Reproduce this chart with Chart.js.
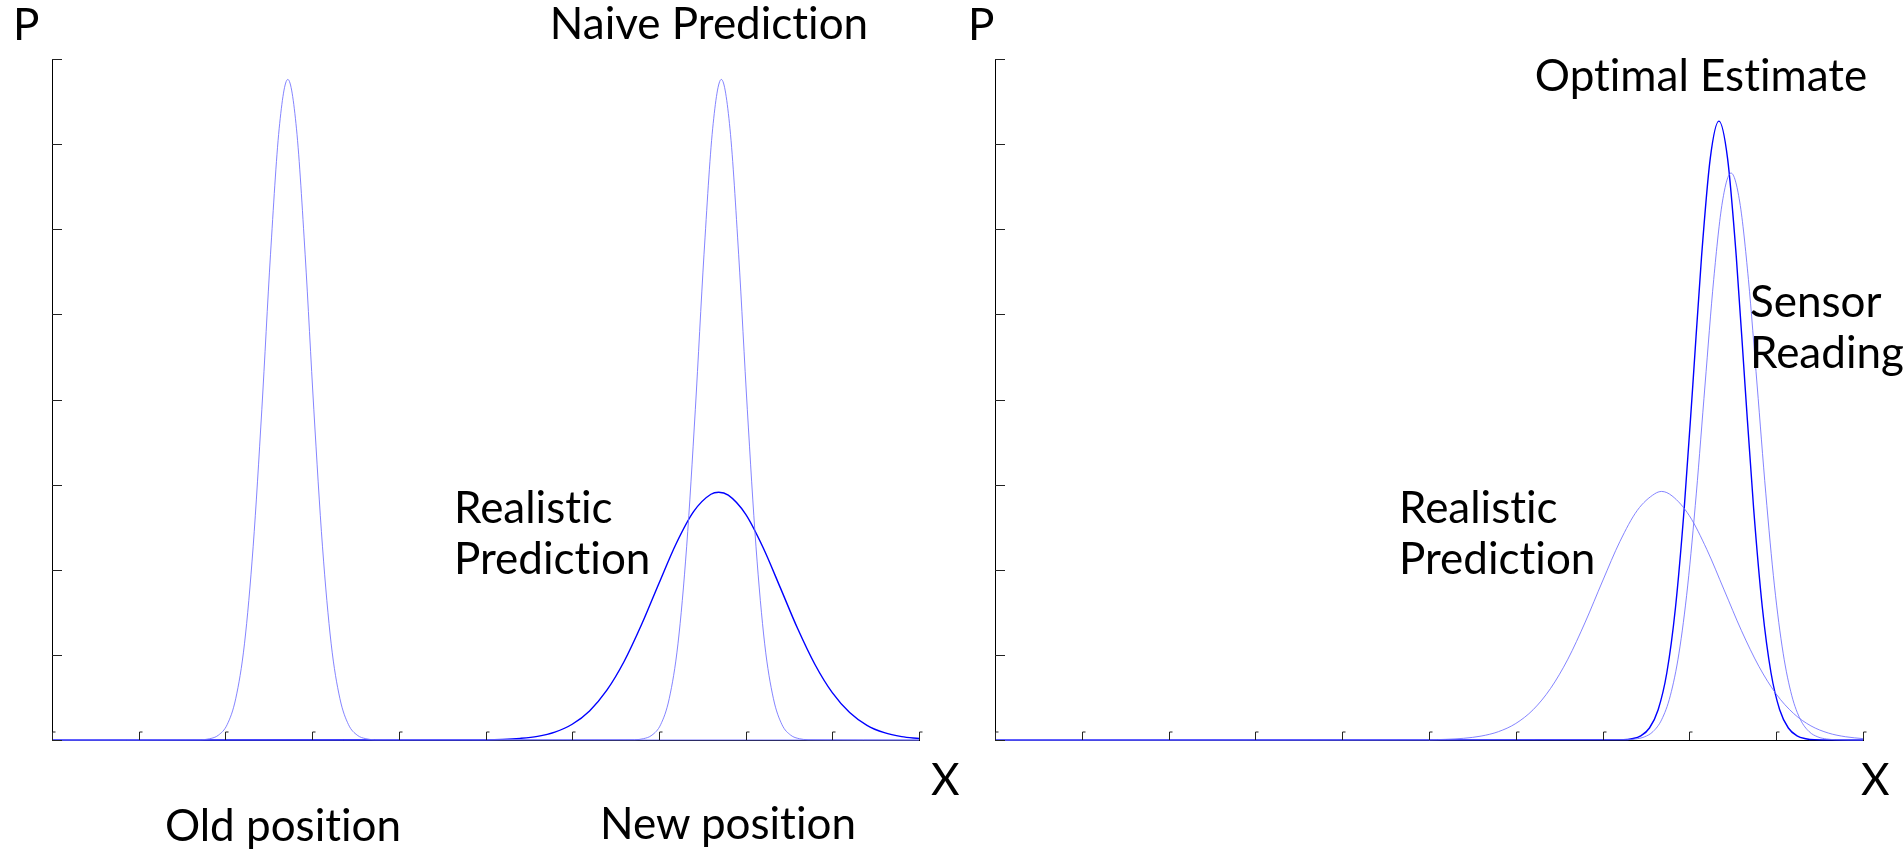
<!DOCTYPE html>
<html>
<head>
<meta charset="utf-8">
<script src="https://cdn.jsdelivr.net/npm/chart.js@4.4.1/dist/chart.umd.min.js"></script>
<style>
  html, body { margin: 0; padding: 0; background: #fff; }
  #stage { position: relative; width: 1903px; height: 852px; overflow: hidden; background: #fff; }
  .panel { position: absolute; top: 0; height: 852px; }
  .lbl { position: absolute; font-family: Lato, "Open Sans", sans-serif; font-size: 44px; line-height: 44px; color: #000; white-space: nowrap; z-index: 2; font-variant-ligatures: none; font-feature-settings: "liga" 0; }
</style>
</head>
<body>
<div id="stage">
  <div class="panel" style="left:0;width:960px"><canvas id="cLeft" width="960" height="852"></canvas></div>
  <div class="panel" style="left:960px;width:943px"><canvas id="cRight" width="943" height="852"></canvas></div>

  <div class="lbl" style="left:13px;top:1px">P</div>
  <div class="lbl" style="left:931px;top:756px">X</div>
  <div class="lbl" style="left:709px;top:0px;transform:translateX(-50%)">Naive Prediction</div>
  <div class="lbl" style="left:454px;top:484px">Realistic<br><span style="line-height:58px">Prediction</span></div>
  <div class="lbl" style="left:283px;top:802px;transform:translateX(-50%)">Old position</div>
  <div class="lbl" style="left:728px;top:800px;transform:translateX(-50%)">New position</div>

  <div class="lbl" style="left:968px;top:1px">P</div>
  <div class="lbl" style="left:1861px;top:756px">X</div>
  <div class="lbl" style="left:1701px;top:52px;transform:translateX(-50%)">Optimal Estimate</div>
  <div class="lbl" style="left:1399px;top:484px">Realistic<br><span style="line-height:58px">Prediction</span></div>
  <div class="lbl" style="left:1750px;top:278px">Sensor<br><span style="line-height:58px">Reading</span></div>
</div>
<script>
// left panel: old position, naive prediction, realistic prediction
const oldPosX = [0, 1.72, 1.82, 1.92, 2.02, 2.12, 2.22, 2.32, 2.42, 2.52, 2.62, 2.72, 2.82, 2.92, 3.02, 3.12, 3.22, 3.32, 3.42, 3.52, 3.62, 3.72, 10];
const oldPosP = [0, 0.004, 0.015, 0.057, 0.18, 0.49, 1.13, 2.27, 3.88, 5.70, 7.18, 7.76, 7.18, 5.70, 3.88, 2.27, 1.13, 0.49, 0.18, 0.057, 0.015, 0.004, 0];

const naiveX = [0, 6.72, 6.82, 6.92, 7.02, 7.12, 7.22, 7.32, 7.42, 7.52, 7.62, 7.72, 7.82, 7.92, 8.02, 8.12, 8.22, 8.32, 8.42, 8.52, 8.62, 8.72, 10];
const naiveP = [0, 0.004, 0.015, 0.057, 0.18, 0.49, 1.13, 2.27, 3.88, 5.70, 7.18, 7.76, 7.18, 5.70, 3.88, 2.27, 1.13, 0.49, 0.18, 0.057, 0.015, 0.004, 0];

const realX = [0, 5.0, 5.2, 5.4, 5.6, 5.8, 6.0, 6.2, 6.4, 6.6, 6.8, 7.0, 7.2, 7.4, 7.6, 7.69, 7.8, 8.0, 8.2, 8.4, 8.6, 8.8, 9.0, 9.2, 9.4, 9.6, 9.8, 10.0];
const realP = [0, 0.003, 0.007, 0.019, 0.043, 0.093, 0.185, 0.342, 0.585, 0.925, 1.356, 1.839, 2.309, 2.683, 2.887, 2.91, 2.876, 2.653, 2.264, 1.790, 1.309, 0.887, 0.556, 0.323, 0.173, 0.086, 0.040, 0.017];

// right panel: realistic prediction, sensor reading, optimal estimate
const real2X = [0, 5.0, 5.2, 5.4, 5.6, 5.8, 6.0, 6.2, 6.4, 6.6, 6.8, 7.0, 7.2, 7.4, 7.6, 7.68, 7.8, 8.0, 8.2, 8.4, 8.6, 8.8, 9.0, 9.2, 9.4, 9.6, 9.8, 10.0];
const real2P = [0, 0.003, 0.008, 0.020, 0.046, 0.098, 0.194, 0.356, 0.605, 0.950, 1.385, 1.868, 2.333, 2.698, 2.892, 2.92, 2.868, 2.634, 2.240, 1.763, 1.284, 0.866, 0.540, 0.312, 0.166, 0.082, 0.038, 0.016];

const sensorX = [0, 7.28, 7.38, 7.48, 7.58, 7.68, 7.78, 7.88, 7.98, 8.08, 8.18, 8.28, 8.38, 8.48, 8.58, 8.68, 8.78, 8.88, 8.98, 9.08, 9.18, 9.28, 9.38, 9.48, 9.58, 9.68, 10];
const sensorP = [0, 0.004, 0.012, 0.036, 0.098, 0.238, 0.52, 1.02, 1.81, 2.90, 4.17, 5.41, 6.32, 6.66, 6.32, 5.41, 4.17, 2.90, 1.81, 1.02, 0.52, 0.238, 0.098, 0.036, 0.012, 0.004, 0];

const optX = [0, 7.24, 7.34, 7.44, 7.54, 7.64, 7.74, 7.84, 7.94, 8.04, 8.14, 8.24, 8.34, 8.44, 8.54, 8.64, 8.74, 8.84, 8.94, 9.04, 9.14, 9.24, 9.34, 9.44, 10];
const optP = [0, 0.004, 0.015, 0.049, 0.141, 0.356, 0.79, 1.56, 2.72, 4.18, 5.68, 6.83, 7.27, 6.83, 5.68, 4.18, 2.72, 1.56, 0.79, 0.356, 0.141, 0.049, 0.015, 0.004, 0];

const LIGHT = 'rgba(110,110,255,0.85)';
const DARK = '#0000ff';

const pts = (xs, ys) => xs.map((x, i) => ({ x, y: ys[i] }));

const series = (data, color, width) => ({
  data,
  borderColor: color,
  borderWidth: width,
  pointRadius: 0,
  fill: false,
  cubicInterpolationMode: 'monotone',
  clip: false,
});

// short inward tick marks like the matlab axes
const innerTicks = {
  id: 'innerTicks',
  afterDraw(chart) {
    const { ctx, scales: { x, y } } = chart;
    ctx.save();
    ctx.strokeStyle = '#222';
    ctx.lineWidth = 1;
    x.ticks.forEach((t, i) => {
      const px = Math.round(x.getPixelForTick(i)) + 0.5;
      ctx.beginPath();
      ctx.moveTo(px, y.bottom);
      ctx.lineTo(px, y.bottom - 8);
      ctx.lineTo(px + 3, y.bottom - 8);
      ctx.stroke();
    });
    y.ticks.forEach((t, i) => {
      const py = Math.round(y.getPixelForTick(i)) + 0.5;
      ctx.beginPath();
      ctx.moveTo(x.left, py);
      ctx.lineTo(x.left + 10, py);
      ctx.stroke();
    });
    ctx.restore();
  }
};

function makeChart(id, datasets, pad) {
  new Chart(document.getElementById(id), {
    type: 'line',
    data: { datasets },
    options: {
      responsive: false,
      animation: false,
      events: [],
      layout: { padding: pad },
      plugins: { legend: { display: false }, tooltip: { enabled: false } },
      scales: {
        x: {
          type: 'linear', min: 0, max: 10,
          ticks: { display: false, stepSize: 1 },
          grid: { display: false },
          border: { display: true, color: '#000', width: 1 },
          afterFit(scale) { scale.height = 0; }
        },
        y: {
          type: 'linear', min: 0, max: 8,
          ticks: { display: false, stepSize: 1 },
          grid: { display: false },
          border: { display: true, color: '#000', width: 1 },
          afterFit(scale) { scale.width = 0; }
        }
      }
    },
    plugins: [innerTicks]
  });
}

makeChart('cLeft', [
  series(pts(oldPosX, oldPosP), LIGHT, 1),
  series(pts(naiveX, naiveP), LIGHT, 1),
  series(pts(realX, realP), DARK, 1.4),
], { left: 52, top: 59, right: 41, bottom: 112 });

makeChart('cRight', [
  series(pts(real2X, real2P), LIGHT, 1),
  series(pts(sensorX, sensorP), LIGHT, 1),
  series(pts(optX, optP), DARK, 1.4),
], { left: 35, top: 59, right: 40, bottom: 112 });
</script>
</body>
</html>
